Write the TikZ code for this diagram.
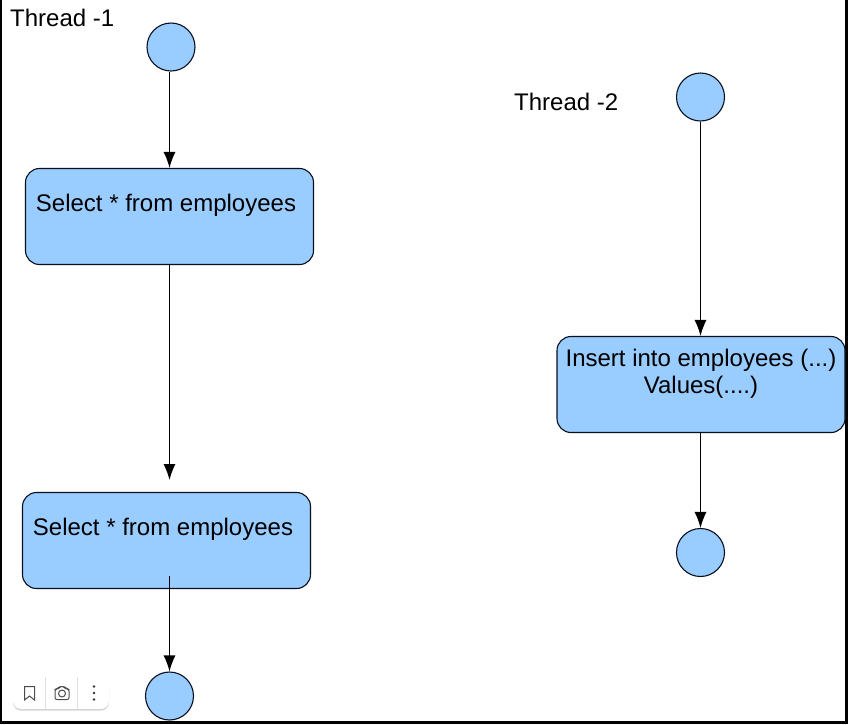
\documentclass[tikz,border=0pt]{standalone}
\usepackage{fontspec}
\setmainfont{Liberation Sans}
\usetikzlibrary{arrows.meta,shadows,positioning}
\definecolor{stateblue}{RGB}{153,204,255}
\definecolor{edgeblack}{RGB}{10,15,30}
\begin{document}
\begin{tikzpicture}[
  x=1pt,y=-1pt,
  statebox/.style={draw=edgeblack,line width=1.1pt,fill=stateblue,rounded corners=14pt,minimum width=288pt,minimum height=96pt,inner sep=0,align=center,font=\fontsize{24}{27}\selectfont},
  terminal/.style={draw=edgeblack,line width=1.1pt,fill=stateblue,circle,minimum size=48pt,inner sep=0},
  threadname/.style={inner sep=0,anchor=base west,font=\fontsize{24}{27}\selectfont},
  arr/.style={line width=1.1pt,black,-{Latex[length=16pt,width=12pt]}},
  widget/.style={draw=black!70,line width=1pt}
  ]
  \useasboundingbox (0,0) rectangle (848,724);
  %
  % Frame
  %
  \fill[white] (0,0) rectangle (848,724);
  \draw[line width=2pt] (1,0) -- (1,722.5);
  \draw[line width=3pt] (0,722.5) -- (848,722.5);
  \draw[line width=3pt] (846.5,0) -- (846.5,722.5);
  %
  % Thread 1
  %
  \node(name1)[threadname] at (10,26) {Thread -1};
  \node(start1)[terminal] at (171,47) {};
  \node(select1)[statebox] at (169.5,216.5) {Select * from employees\hspace*{7pt}\\~};
  \node(select2)[statebox] at (166.5,540.5) {Select * from employees\hspace*{7pt}\\~};
  \node(end1)[terminal] at (169.5,696) {};
  \coordinate(gap2) at (169.5,480);
  \coordinate(out2) at (169.5,576);
  %
  % Thread 2
  %
  \node(name2)[threadname] at (514,110) {Thread -2};
  \node(start2)[terminal] at (700.5,97) {};
  \node(insert)[statebox] at (701,384.5) {Insert into employees (...)\\Values(....)\\~};
  \node(end2)[terminal] at (700.5,552.5) {};
  %
  % Arrows
  %
  % start1 -> select1
  \draw[arr] (select1.north |- start1.south) -- (select1.north);
  % select1 -> select2
  \draw[arr] (select1.south) -- (gap2);
  % select2 -> end1
  \draw[arr] (out2) -- (end1.north);
  % start2 -> insert
  \draw[arr] (start2.south) -- (start2.south |- insert.north);
  % insert -> end2
  \draw[arr] (end2.north |- insert.south) -- (end2.north);
  %
  % Toolbar
  %
  \node(toolbar)[fill=white,rounded corners=8pt,minimum width=96pt,minimum height=32pt,inner sep=0,drop shadow={opacity=0.35,shadow xshift=0pt,shadow yshift=-1.5pt}] at (61,693) {};
  \draw[black!12] (45.5,677) -- (45.5,709);
  \draw[black!12] (77.5,677) -- (77.5,709);
  \draw[widget] (24.5,686.5) -- (34.5,686.5) -- (34.5,700) -- (29.5,696) -- (24.5,700) -- cycle;
  \draw[widget,rounded corners=2pt] (55,689) -- (58,689) -- (59.5,686.5) -- (64.5,686.5) -- (66,689) -- (69,689) -- (69,699.5) -- (55,699.5) -- cycle;
  \draw[widget] (62,693.5) circle (3.5pt);
  \foreach \dotpos in {686.5,693,699.5}
    \fill[black!80] (94,\dotpos) circle (1.4pt);
\end{tikzpicture}
\end{document}
